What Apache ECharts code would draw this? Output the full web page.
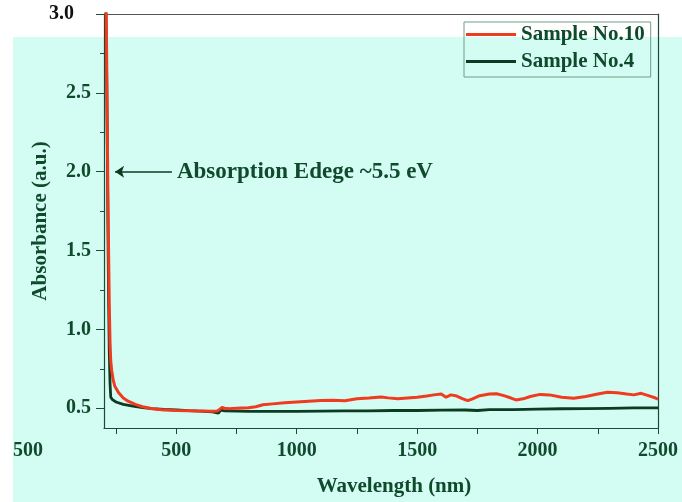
<!DOCTYPE html>
<html>
<head>
<meta charset="utf-8">
<script src="https://cdn.jsdelivr.net/npm/echarts@6/dist/echarts.min.js"></script>
<style>
html,body{margin:0;padding:0;background:#fff;}
#c{width:682px;height:502px;}
</style>
</head>
<body>
<div id="c"></div>
<script>
// ---- data (wavelength nm, absorbance a.u.) ----
const sample10 = [
 [205,3.4],[210,2.9],[213,2.4],[216,1.9],[219,1.5],[222,1.15],[225,0.92],[228,0.8],[232,0.74],[238,0.68],
 [245,0.64],[260,0.6],[280,0.565],[300,0.545],[330,0.525],[360,0.51],[400,0.497],[450,0.489],[500,0.486],
 [550,0.484],[600,0.482],[650,0.481],[670,0.483],[680,0.493],[690,0.505],[700,0.5],[720,0.497],[750,0.501],
 [800,0.503],[830,0.51],[860,0.522],[900,0.528],[950,0.535],[1000,0.54],[1050,0.545],[1100,0.55],[1150,0.551],
 [1200,0.548],[1250,0.56],[1300,0.565],[1350,0.572],[1380,0.566],[1420,0.56],[1460,0.565],[1500,0.57],
 [1540,0.578],[1570,0.585],[1600,0.59],[1620,0.57],[1640,0.585],[1660,0.58],[1690,0.56],[1710,0.548],
 [1730,0.56],[1760,0.58],[1800,0.59],[1830,0.592],[1860,0.58],[1890,0.565],[1910,0.553],[1940,0.56],
 [1970,0.575],[2010,0.588],[2050,0.585],[2100,0.57],[2150,0.563],[2200,0.575],[2250,0.59],[2290,0.602],
 [2330,0.598],[2370,0.59],[2400,0.585],[2430,0.595],[2460,0.58],[2490,0.565],[2500,0.558]
];
const sample4 = [
 [205,3.3],[210,2.8],[213,2.3],[216,1.7],[219,1.2],[222,0.85],[225,0.66],[228,0.57],[235,0.555],[250,0.54],
 [280,0.525],[320,0.513],[360,0.505],[400,0.498],[450,0.493],[500,0.489],[550,0.485],[600,0.482],[650,0.478],
 [675,0.47],[685,0.488],[700,0.483],[800,0.48],[900,0.48],[1000,0.481],[1100,0.482],[1200,0.483],[1300,0.484],
 [1400,0.486],[1500,0.486],[1600,0.488],[1700,0.489],[1750,0.486],[1800,0.491],[1900,0.492],[2000,0.495],
 [2100,0.497],[2200,0.498],[2300,0.5],[2400,0.502],[2500,0.502]
];
const seriesNames = ['Sample No.10','Sample No.4'];
const xTicks = [250,500,750,1000,1250,1500,1750,2000,2250,2500];
const xLabels = [500,1000,1500,2000,2500];
const yMajor = [0.5,1.0,1.5,2.0,2.5,3.0];
const yMinor = [0.75,1.25,1.75,2.25,2.75];
const annotation = {text:'Absorption Edege ~5.5 eV', y:2.0, from:482, to:246};

const DG = '#0f4a2d';
const AX = '#1d4a35';
const FONT = '"Liberation Serif","DejaVu Serif",serif';
const chart = echarts.init(document.getElementById('c'));
chart.setOption({
  backgroundColor:'#ffffff',
  animation:false,
  graphic:[
    {type:'rect', z:-100, shape:{x:13,y:37,width:669,height:465}, style:{fill:'#d3fcf3'}},
    {type:'text', z:5, left:13, top:441, style:{text:'500', fill:DG, font:'bold 20px '+FONT}}
  ],
  grid:{left:104, right:24, top:14, bottom:74},
  legend:{
    data:seriesNames, orient:'vertical', left:464, top:22,
    padding:[2,6,5,2], itemGap:6, itemWidth:50, itemHeight:3, icon:'rect',
    borderColor:'#6f9f88', borderWidth:1, backgroundColor:'transparent',
    textStyle:{fontFamily:FONT, fontWeight:'bold', fontSize:21, color:DG, lineHeight:21}
  },
  xAxis:[{
    type:'value', min:200, max:2500,
    name:'Wavelength (nm)', nameLocation:'middle', nameGap:48, nameMoveOverlap:false,
    nameTextStyle:{fontFamily:FONT, fontWeight:'bold', fontSize:21, color:DG, padding:[0,0,0,26]},
    axisLine:{show:true, lineStyle:{color:AX, width:1.2}},
    axisTick:{show:true, inside:false, length:6, customValues:xTicks, lineStyle:{color:AX}},
    axisLabel:{customValues:xLabels, margin:13, fontFamily:FONT, fontWeight:'bold', fontSize:20, color:DG,
      formatter:function(v){return String(v);}},
    splitLine:{show:false}
  },{
    type:'value', min:200, max:2500, position:'top',
    axisLine:{show:true, onZero:false, lineStyle:{color:'#555', width:1.2}},
    axisTick:{show:false}, axisLabel:{show:false}, splitLine:{show:false}
  }],
  yAxis:[{
    type:'value', min:0.375, max:3.0,
    name:'Absorbance (a.u.)', nameLocation:'middle', nameGap:53, nameRotate:90, nameMoveOverlap:false,
    nameTextStyle:{fontFamily:FONT, fontWeight:'bold', fontSize:21, color:DG},
    axisLine:{show:true, lineStyle:{color:AX, width:1.2}},
    axisTick:{show:true, length:8, customValues:yMajor, lineStyle:{color:AX}},
    axisLabel:{customValues:yMajor, margin:13, fontFamily:FONT, fontWeight:'bold', fontSize:20, color:DG,
      formatter:function(v){return Math.abs(v-3)<1e-6 ? '{t|3.0}' : v.toFixed(1);},
      rich:{t:{fontFamily:FONT, fontWeight:'bold', fontSize:20, color:'#111', padding:[0,17,0,0]}}},
    splitLine:{show:false}
  },{
    type:'value', min:0.375, max:3.0, position:'left',
    axisLine:{show:false},
    axisTick:{show:true, length:4, customValues:yMinor, lineStyle:{color:AX}},
    axisLabel:{show:false}, splitLine:{show:false}
  },{
    type:'value', min:0.375, max:3.0, position:'right',
    axisLine:{show:true, lineStyle:{color:AX, width:1.2}},
    axisTick:{show:false}, axisLabel:{show:false}, splitLine:{show:false}
  }],
  series:[{
    name:seriesNames[0], type:'line', data:sample10, symbol:'none', clip:true,
    lineStyle:{color:'#ef3b20', width:3}, itemStyle:{color:'#ef3b20'}, z:3
  },{
    name:seriesNames[1], type:'line', data:sample4, symbol:'none', clip:true,
    lineStyle:{color:'#0b3b22', width:2.8}, itemStyle:{color:'#0b3b22'}, z:2,
    markLine:{
      silent:true, symbol:['none','arrow'], symbolSize:[9,9],
      lineStyle:{color:'#0b3b22', width:1.5, type:'solid'},
      label:{show:true, position:'start', distance:5, formatter:annotation.text,
        fontFamily:FONT, fontWeight:'bold', fontSize:23, color:DG},
      data:[[{coord:[annotation.from, annotation.y]},{coord:[annotation.to, annotation.y]}]]
    }
  }]
});
</script>
</body>
</html>
